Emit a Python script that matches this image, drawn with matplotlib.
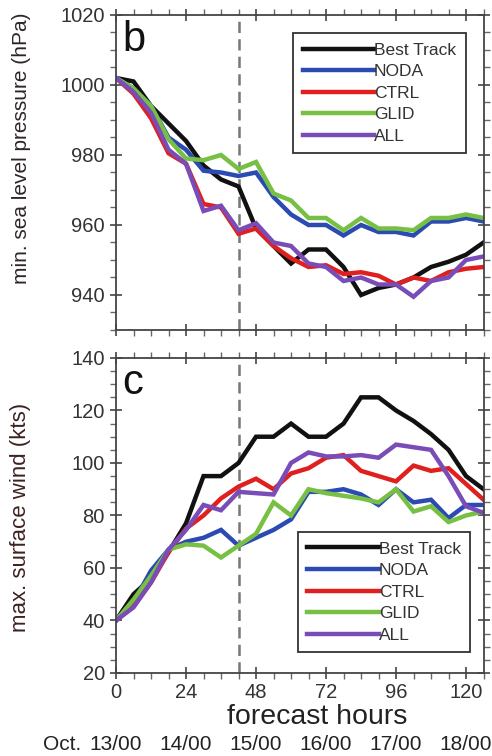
import numpy as np
import matplotlib
matplotlib.use("Agg")
import matplotlib.pyplot as plt
from matplotlib.ticker import MultipleLocator
import matplotlib.transforms as mtransforms

plt.rcParams['font.family'] = ['Liberation Sans', 'DejaVu Sans']

hours = np.arange(0, 127, 6)

# min. sea level pressure (hPa)
bt_p = [1002, 1001, 994, 989, 984, 977, 973, 971, 959, 954, 949, 953, 953, 948, 940, 942, 943, 945, 948, 949.5, 951.5, 955]
noda_p = [1002, 999, 994, 985, 981.5, 975.5, 975, 974, 975, 968, 963, 960, 960, 957, 960, 958, 958, 957, 961, 961, 962, 961]
ctrl_p = [1002, 997.5, 990.5, 980.5, 977.5, 966, 965, 957.5, 959, 954, 950.5, 948, 948.5, 946, 946.5, 945.5, 943, 945, 944, 946.5, 947.5, 948]
glid_p = [1002, 999, 994, 984.5, 979, 978.5, 980, 976, 978, 969, 967, 962, 962, 958.5, 962, 959, 959, 958.5, 962, 962, 963, 962]
all_p = [1002, 998, 992, 981.5, 977.5, 964, 965.5, 958.5, 960.5, 955, 954, 949, 948, 944, 945, 943, 943, 939.5, 944, 945, 950, 951]

# max. surface wind (kts)
bt_w = [40, 50, 56, 66, 77, 95, 95, 100, 110, 110, 115, 110, 110, 115, 125, 125, 120, 116, 111, 105, 95, 90]
noda_w = [40, 47, 59, 67, 70, 71.5, 74.5, 68.5, 71.5, 74.5, 78.5, 89, 89, 90, 88, 84, 90, 85, 86, 79, 84, 84]
ctrl_w = [40, 45.5, 54.5, 66, 75, 80, 86.5, 91, 94, 90, 96, 98, 102, 103, 97, 95, 93, 99, 97, 98, 92, 86]
glid_w = [40, 48, 57, 67, 69, 68.5, 64, 68.5, 73, 85, 80, 90, 88.5, 87.5, 86.5, 85, 90, 81.5, 83.5, 77.5, 80, 81.5]
all_w = [40, 45, 54.5, 67, 74.5, 84, 82, 89, 88.5, 88, 100, 104, 102.5, 102.5, 103, 102, 107, 106, 105, 95, 83.5, 81]

names = ["Best Track", "NODA", "CTRL", "GLID", "ALL"]
colors = ["#111111", "#2b4bb3", "#e0201f", "#77c043", "#7a4cb8"]

init_hour = 42
date_hours = [0, 24, 48, 72, 96, 120]
date_labels = ["13/00", "14/00", "15/00", "16/00", "17/00", "18/00"]

fig = plt.figure(figsize=(4.92, 7.56), dpi=100)
ax1 = fig.add_axes([0.2358, 0.5635, 0.747, 0.4167])
ax2 = fig.add_axes([0.2358, 0.1098, 0.747, 0.4167])

tc = "#333333"


def style(ax):
    ax.set_xlim(0, 126)
    ax.xaxis.set_major_locator(MultipleLocator(24))
    ax.xaxis.set_minor_locator(MultipleLocator(6))
    ax.yaxis.set_minor_locator(MultipleLocator(5))
    ax.tick_params(which='major', direction='inout', length=9, width=1.2,
                   color='#444444', labelcolor=tc, labelsize=14.5,
                   top=True, right=True)
    ax.tick_params(which='minor', direction='out', length=4, width=1.0,
                   color='#666666', top=True, right=True)
    for s in ax.spines.values():
        s.set_color('#444444')
        s.set_linewidth(1.3)
    ax.axvline(init_hour, color='#777777', lw=1.8, ls=(0, (4.5, 2.5)), zorder=1)


series_p = [bt_p, noda_p, ctrl_p, glid_p, all_p]
series_w = [bt_w, noda_w, ctrl_w, glid_w, all_w]

for ys, c, n in zip(series_p, colors, names):
    ax1.plot(hours, ys, color=c, lw=3.2, label=n, solid_joinstyle='miter')
for ys, c, n in zip(series_w, colors, names):
    ax2.plot(hours, ys, color=c, lw=3.2, label=n, solid_joinstyle='miter')

style(ax1)
style(ax2)

ax1.set_ylim(930, 1020)
ax1.yaxis.set_major_locator(MultipleLocator(20))
ax1.tick_params(labelbottom=False)
ax2.set_ylim(20, 140)
ax2.yaxis.set_major_locator(MultipleLocator(20))
ax2.tick_params(axis='x', pad=3)

ax1.set_ylabel("min. sea level pressure (hPa)", fontsize=15, color='#2e2626')
ax1.yaxis.set_label_coords(-0.232, 0.578)
ax2.set_ylabel("max. surface wind (kts)", fontsize=16, color='#3e2222')
ax2.yaxis.set_label_coords(-0.232, 0.495)
ax2.set_xlabel("forecast hours", fontsize=20.5, color='#222222')
ax2.xaxis.set_label_coords(0.548, -0.098)

ax1.text(0.016, 0.985, "b", transform=ax1.transAxes, fontsize=30,
         va='top', ha='left', color='#111111')
ax2.text(0.016, 0.985, "c", transform=ax2.transAxes, fontsize=30,
         va='top', ha='left', color='#111111')

leg_kw = dict(loc='upper left', fontsize=12.5, handlelength=4.1,
              handletextpad=0.0, labelspacing=0.37, borderpad=0.55,
              borderaxespad=0, fancybox=False, framealpha=1,
              edgecolor='#333333')
lg1 = ax1.legend(bbox_to_anchor=(0.482, 0.943), **leg_kw)
lg2 = ax2.legend(bbox_to_anchor=(0.495, 0.448), **leg_kw)
for lg in (lg1, lg2):
    lg.get_frame().set_linewidth(1.3)
    for t in lg.get_texts():
        t.set_color('#333333')

# date row under the hour labels
trans = mtransforms.blended_transform_factory(ax2.transData, ax2.transAxes)
for h, lab in zip(date_hours, date_labels):
    ax2.text(h, -0.226, lab, transform=trans, fontsize=15, ha='center',
             va='center', color='#222222', clip_on=False)
oct_trans = trans + mtransforms.ScaledTranslation(-25 / 72, 0, fig.dpi_scale_trans)
ax2.text(date_hours[0], -0.226, "Oct.", transform=oct_trans, fontsize=15,
         ha='right', va='center', color='#222222', clip_on=False)

fig.savefig("out.png", dpi=100)
